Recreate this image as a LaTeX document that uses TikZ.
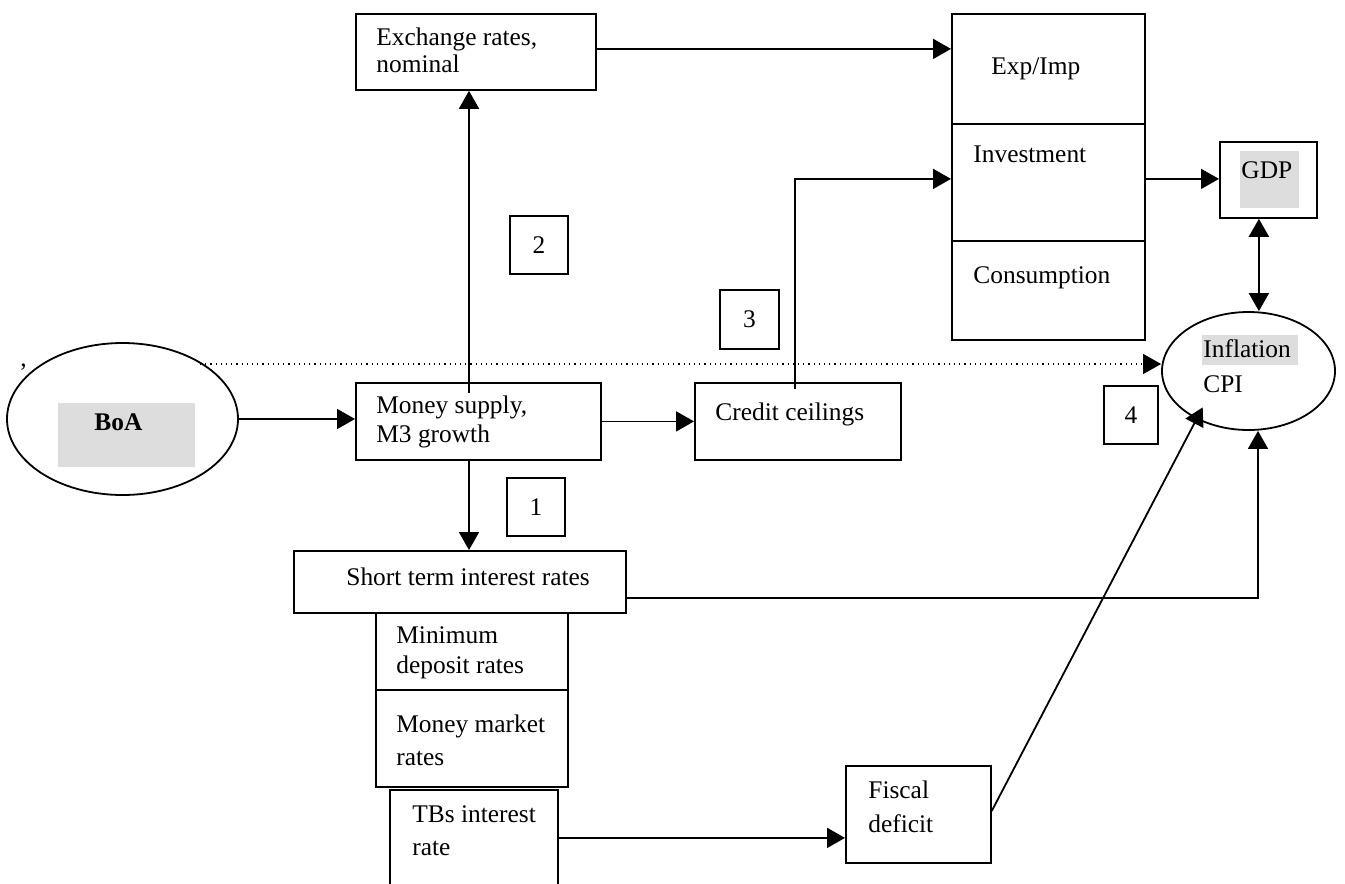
\documentclass[tikz,border=0pt]{standalone}
\usepackage{fontspec}
\setmainfont{Liberation Serif}
\usetikzlibrary{arrows.meta,shapes.geometric}
\definecolor{hilite}{RGB}{221,221,221}

\begin{document}
\begin{tikzpicture}[
                x=0.5pt, y=-0.5pt,
                font=\fontsize{12.7pt}{15pt}\selectfont,
                box/.style={draw, line width=0.9pt, inner sep=0pt, anchor=north west},
                oval/.style={draw, ellipse, line width=0.9pt, inner sep=0pt},
                shade/.style={fill=hilite, inner sep=0pt, anchor=north west},
                txt/.style={anchor=base west, inner sep=0pt},
                arr/.style={line width=0.9pt, -{Triangle[length=9pt,width=10pt]}},
                dbl/.style={line width=0.9pt, {Triangle[length=9pt,width=10pt]}-{Triangle[length=9pt,width=10pt]}}
            ]
                \useasboundingbox (0,0) rectangle (1345,884);

                % ovals
                \node[oval, minimum width=115.5pt, minimum height=76pt] (boa) at (122.5,419) {};
                \node[shade, minimum width=68.5pt, minimum height=32pt] (boabg) at (58,403) {};
                \node[txt] (boatxt) at (94,430) {\bfseries BoA};
                \node[txt] (comma) at (20,366) {,};

                \node[oval, minimum width=86.5pt, minimum height=59pt] (infl) at (1248.5,371) {};
                \node[shade, minimum width=48pt, minimum height=15pt] (inflbg) at (1202,335) {};
                \node[txt] (infltxt) at (1203,357) {Inflation};
                \node[txt] (cpitxt) at (1203,392) {CPI};

                % boxes
                \node[box, minimum width=120pt, minimum height=38pt] (exch) at (355,13) {};
                \node[txt] (exchtxt) at (376,45) {Exchange rates,};
                \node[txt] (exchtxtb) at (376,72) {nominal};

                \node[box, minimum width=96.5pt, minimum height=55pt] (expimp) at (951,13) {};
                \node[box, minimum width=96.5pt, minimum height=58.5pt] (invest) at (951,123) {};
                \node[box, minimum width=96.5pt, minimum height=49.5pt] (consum) at (951,240) {};
                \node[txt] (expimptxt) at (991,74) {Exp/Imp};
                \node[txt] (investtxt) at (973,162) {Investment};
                \node[txt] (consumtxt) at (973,283) {Consumption};

                \node[box, minimum width=48.5pt, minimum height=38pt] (gdp) at (1219,141) {};
                \node[shade, minimum width=29.5pt, minimum height=28.5pt] (gdpbg) at (1240,151) {};
                \node[txt] (gdptxt) at (1241,178) {GDP};

                \node[box, minimum width=122.5pt, minimum height=38.5pt] (money) at (355,382) {};
                \node[txt] (moneytxt) at (376,413) {Money supply,};
                \node[txt] (moneytxtb) at (376,442) {M3 growth};

                \node[box, minimum width=103pt, minimum height=38.5pt] (credit) at (694,382) {};
                \node[txt] (credittxt) at (715,420) {Credit ceilings};

                \node[box, minimum width=166pt, minimum height=31pt] (st) at (293,550) {};
                \node[txt] (sttxt) at (346,585) {Short term interest rates};

                \node[box, minimum width=96pt, minimum height=38.5pt] (mindep) at (375,612) {};
                \node[txt] (mindeptxt) at (396,643) {Minimum};
                \node[txt] (mindeptxtb) at (396,673) {deposit rates};

                \node[box, minimum width=96pt, minimum height=48.5pt] (mmr) at (375,689) {};
                \node[txt] (mmrtxt) at (396,732) {Money market};
                \node[txt] (mmrtxtb) at (396,765) {rates};

                \node[box, minimum width=84pt, minimum height=55pt] (tbs) at (389,789) {};
                \node[txt] (tbstxt) at (412,822) {TBs interest};
                \node[txt] (tbstxtb) at (412,855) {rate};

                \node[box, minimum width=72.5pt, minimum height=48.5pt] (fiscal) at (845,765) {};
                \node[txt] (fiscaltxt) at (868,798) {Fiscal};
                \node[txt] (fiscaltxtb) at (868,832) {deficit};

                % numbered channels
                \node[box, minimum width=29pt, minimum height=29pt] (n1) at (506,477) {1};
                \node[box, minimum width=29pt, minimum height=29pt] (n2) at (509,215) {2};
                \node[box, minimum width=29.5pt, minimum height=29.5pt] (n3) at (719,289) {3};
                \node[box, minimum width=27pt, minimum height=29pt] (n4) at (1103,385) {4};

                % connectors
                \coordinate (mup) at (469,393);
                \coordinate (cup) at (795,389);
                \coordinate (dots) at (200,364);

                \draw[arr] (boa.east) -- (boa.east -| money.west);
                \draw[arr] (money.east) -- (money.east -| credit.west);
                \draw[arr] (mup) -- (mup |- exch.south);
                \draw[arr] (mup |- money.south) -- (mup |- st.north);
                \draw[arr] (cup) |- ([yshift=1.75pt]invest.west);
                \draw[arr] ([yshift=1.5pt]exch.east) -- ([yshift=1.5pt]exch.east -| expimp.west);
                \draw[arr] ([yshift=1.75pt]invest.east) -- ([yshift=1.75pt]invest.east -| gdp.west);
                \draw[dbl] ([xshift=-4.75pt]gdp.south) -- ([xshift=-4.75pt]gdp.south |- infl.north);
                \draw[line width=0.6pt, dotted, -{Triangle[length=9pt,width=10pt]}] (dots) -- (dots -| infl.west);
                \draw[arr] ([yshift=-8pt]st.east) -| ([xshift=4.75pt]infl.south);
                \draw[arr] ([yshift=3.5pt]tbs.east) -- ([yshift=3.5pt]tbs.east -| fiscal.west);
                \draw[arr] ([yshift=1.75pt]fiscal.east) -- ([shift={(8pt,3pt)}]infl.south west);
            \end{tikzpicture}
\end{document}
